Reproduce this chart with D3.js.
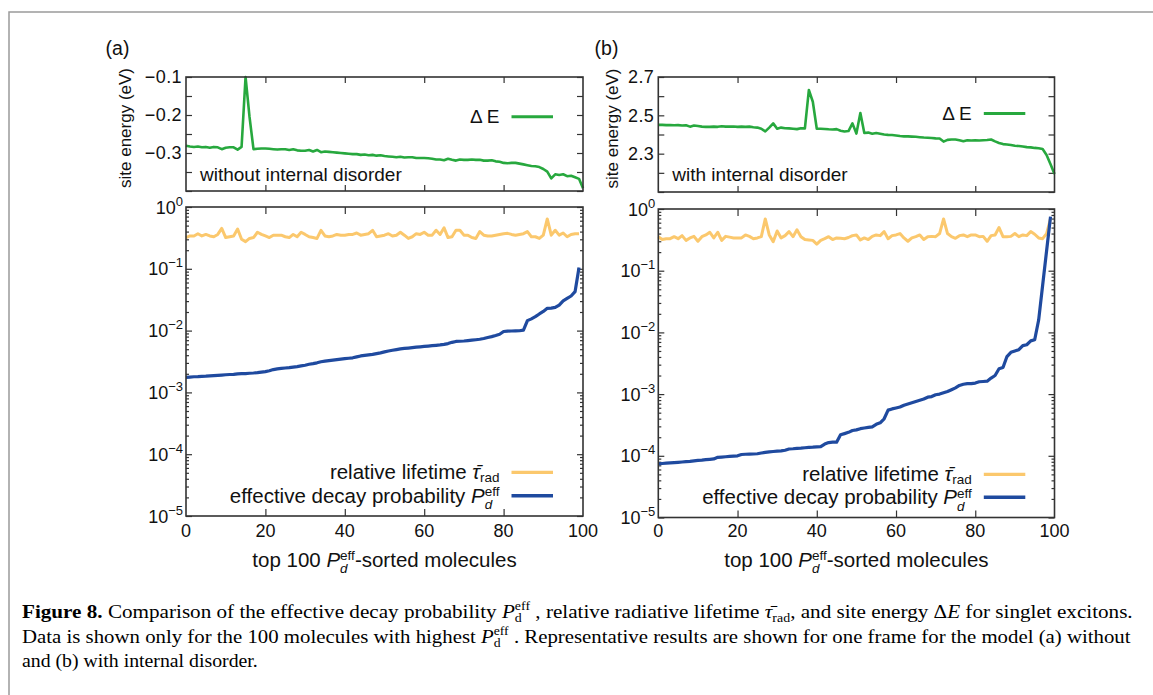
<!DOCTYPE html>
<html><head><meta charset="utf-8">
<script src="https://cdn.jsdelivr.net/npm/d3@7"></script>
<style>body{margin:0;background:#fff;}svg{display:block;}</style>
</head><body>
<svg id="fig" width="1153" height="695"></svg>
<script>
// ---------------- DATA ----------------
const xTicks = [0, 20, 40, 60, 80, 100];
const xTickLabels = ["0", "20", "40", "60", "80", "100"];

const energyTicksA = [-0.1, -0.2, -0.3];
const energyLabelsA = ["\u22120.1", "\u22120.2", "\u22120.3"];
const energyTicksB = [2.7, 2.5, 2.3];
const energyLabelsB = ["2.7", "2.5", "2.3"];

const logTicks = [1, 1e-1, 1e-2, 1e-3, 1e-4, 1e-5];
const logTickExps = ["0", "\u22121", "\u22122", "\u22123", "\u22124", "\u22125"];

// site energy (eV), panel (a) without internal disorder, molecules 0..100
const energyA = [
 -0.281,-0.283,-0.284,-0.283,-0.285,-0.284,-0.286,-0.284,-0.285,-0.290,
 -0.286,-0.285,-0.285,-0.291,-0.284,-0.100,-0.205,-0.290,-0.289,-0.288,
 -0.288,-0.289,-0.290,-0.291,-0.290,-0.290,-0.292,-0.290,-0.293,-0.294,
 -0.294,-0.292,-0.296,-0.292,-0.298,-0.296,-0.297,-0.298,-0.299,-0.300,
 -0.301,-0.302,-0.303,-0.303,-0.305,-0.304,-0.306,-0.305,-0.307,-0.306,
 -0.308,-0.309,-0.310,-0.311,-0.310,-0.312,-0.311,-0.311,-0.313,-0.313,
 -0.313,-0.314,-0.315,-0.317,-0.317,-0.319,-0.315,-0.318,-0.320,-0.317,
 -0.318,-0.318,-0.317,-0.318,-0.318,-0.320,-0.320,-0.319,-0.322,-0.323,
 -0.326,-0.327,-0.326,-0.326,-0.328,-0.330,-0.332,-0.334,-0.335,-0.337,
 -0.342,-0.349,-0.367,-0.356,-0.358,-0.356,-0.361,-0.360,-0.364,-0.368,
 -0.393];

// site energy (eV), panel (b) with internal disorder, molecules 0..100
const energyB = [
 2.450,2.450,2.449,2.449,2.448,2.449,2.447,2.448,2.441,2.447,
 2.444,2.441,2.440,2.440,2.441,2.440,2.443,2.441,2.441,2.442,
 2.440,2.441,2.440,2.441,2.438,2.436,2.430,2.416,2.436,2.458,
 2.430,2.436,2.433,2.432,2.430,2.428,2.433,2.432,2.632,2.571,
 2.430,2.430,2.429,2.427,2.426,2.428,2.420,2.416,2.418,2.458,
 2.405,2.512,2.408,2.410,2.404,2.408,2.404,2.400,2.398,2.397,
 2.395,2.392,2.390,2.390,2.389,2.388,2.386,2.384,2.383,2.382,
 2.380,2.379,2.363,2.372,2.374,2.374,2.370,2.365,2.370,2.369,
 2.370,2.369,2.370,2.371,2.374,2.364,2.356,2.350,2.348,2.345,
 2.341,2.340,2.337,2.334,2.333,2.330,2.328,2.324,2.293,2.245,
 2.194];

// relative lifetime, panel (a), molecules 0..99
const lifetimeA = [
 0.32,0.34,0.34,0.37,0.34,0.36,0.34,0.33,0.36,0.45,
 0.32,0.33,0.34,0.44,0.30,0.275,0.31,0.32,0.39,0.36,
 0.34,0.32,0.35,0.35,0.35,0.33,0.32,0.36,0.33,0.39,
 0.36,0.33,0.32,0.31,0.42,0.34,0.33,0.34,0.36,0.35,
 0.35,0.36,0.36,0.38,0.35,0.36,0.37,0.42,0.33,0.34,
 0.35,0.37,0.34,0.35,0.39,0.35,0.31,0.33,0.37,0.36,
 0.39,0.35,0.35,0.42,0.36,0.46,0.32,0.33,0.42,0.42,
 0.35,0.35,0.32,0.31,0.40,0.35,0.34,0.34,0.35,0.36,
 0.37,0.375,0.36,0.35,0.36,0.37,0.40,0.33,0.33,0.31,
 0.35,0.64,0.35,0.42,0.35,0.38,0.33,0.36,0.37,0.37];

// effective decay probability, panel (a)
const decayA = [
 1.75e-3,1.77e-3,1.79e-3,1.80e-3,1.82e-3,1.83e-3,1.85e-3,1.87e-3,1.89e-3,1.91e-3,
 1.93e-3,1.95e-3,1.96e-3,2.00e-3,2.01e-3,2.02e-3,2.04e-3,2.06e-3,2.09e-3,2.13e-3,
 2.17e-3,2.24e-3,2.34e-3,2.40e-3,2.44e-3,2.48e-3,2.52e-3,2.57e-3,2.62e-3,2.68e-3,
 2.75e-3,2.85e-3,2.92e-3,3.01e-3,3.13e-3,3.20e-3,3.27e-3,3.33e-3,3.39e-3,3.45e-3,
 3.51e-3,3.57e-3,3.63e-3,3.76e-3,3.89e-3,3.98e-3,4.05e-3,4.12e-3,4.25e-3,4.37e-3,
 4.52e-3,4.68e-3,4.81e-3,4.93e-3,5.06e-3,5.14e-3,5.22e-3,5.31e-3,5.40e-3,5.47e-3,
 5.55e-3,5.62e-3,5.70e-3,5.78e-3,5.86e-3,5.98e-3,6.17e-3,6.46e-3,6.67e-3,6.73e-3,
 6.79e-3,6.89e-3,7.00e-3,7.11e-3,7.24e-3,7.45e-3,7.73e-3,7.98e-3,8.32e-3,8.71e-3,
 9.66e-3,9.82e-3,9.86e-3,9.91e-3,9.95e-3,1.02e-2,1.45e-2,1.55e-2,1.68e-2,1.86e-2,
 2.04e-2,2.29e-2,2.31e-2,2.37e-2,2.59e-2,3.02e-2,3.31e-2,3.63e-2,4.27e-2,1.05e-1];

// relative lifetime, panel (b)
const lifetimeB = [
 0.356,0.32,0.33,0.33,0.356,0.33,0.37,0.31,0.34,0.36,
 0.30,0.356,0.38,0.42,0.34,0.42,0.31,0.36,0.35,0.34,
 0.34,0.34,0.38,0.36,0.33,0.34,0.356,0.69,0.38,0.296,
 0.44,0.34,0.37,0.43,0.356,0.46,0.356,0.32,0.315,0.31,
 0.27,0.31,0.33,0.356,0.32,0.34,0.335,0.33,0.345,0.37,
 0.38,0.315,0.34,0.32,0.36,0.38,0.37,0.43,0.33,0.37,
 0.38,0.40,0.34,0.30,0.34,0.356,0.38,0.32,0.356,0.36,
 0.356,0.40,0.69,0.40,0.356,0.335,0.37,0.38,0.356,0.38,
 0.38,0.356,0.36,0.30,0.37,0.38,0.50,0.356,0.356,0.36,
 0.40,0.356,0.38,0.37,0.43,0.39,0.34,0.33,0.40,0.70];

// effective decay probability, panel (b)
const decayB = [
 7.41e-5,7.50e-5,7.59e-5,7.67e-5,7.76e-5,7.85e-5,7.94e-5,8.04e-5,8.13e-5,8.28e-5,
 8.41e-5,8.51e-5,8.65e-5,8.77e-5,8.91e-5,9.44e-5,9.55e-5,9.66e-5,9.77e-5,9.89e-5,
 1.00e-4,1.05e-4,1.06e-4,1.064e-4,1.07e-4,1.08e-4,1.11e-4,1.135e-4,1.16e-4,1.175e-4,
 1.19e-4,1.20e-4,1.23e-4,1.29e-4,1.30e-4,1.32e-4,1.33e-4,1.35e-4,1.365e-4,1.38e-4,
 1.40e-4,1.41e-4,1.55e-4,1.64e-4,1.66e-4,1.66e-4,2.19e-4,2.29e-4,2.40e-4,2.57e-4,
 2.63e-4,2.75e-4,2.82e-4,2.88e-4,2.95e-4,3.24e-4,3.43e-4,3.98e-4,5.50e-4,5.75e-4,
 5.96e-4,6.17e-4,6.61e-4,6.92e-4,7.24e-4,7.59e-4,7.94e-4,8.32e-4,8.91e-4,9.12e-4,
 9.77e-4,1.00e-3,1.05e-3,1.10e-3,1.175e-3,1.26e-3,1.38e-3,1.445e-3,1.48e-3,1.48e-3,
 1.51e-3,1.585e-3,1.60e-3,1.62e-3,1.82e-3,2.00e-3,2.57e-3,2.69e-3,4.06e-3,4.76e-3,
 5.01e-3,5.25e-3,6.11e-3,6.31e-3,7.28e-3,7.59e-3,1.585e-2,5.75e-2,0.209,0.752];

// ---------------- STYLE / LAYOUT ----------------
const FONT = '"Liberation Sans", Arial, Helvetica, sans-serif';
const SERIF = '"Liberation Serif", "Times New Roman", serif';
const COL = {green: '#27a83e', orange: '#fbc86d', blue: '#1f4a9f', axis: '#333', text: '#111'};
const TFS = 18;  // tick label size
const LFS = 20.5; // legend / title text size
const SFS = 13.5; // sub/superscript size

const svg = d3.select('#fig');

// outer figure frame (extends past right / bottom edge)
svg.append('rect').attr('x', 9).attr('y', 12).attr('width', 1300).attr('height', 900)
  .attr('fill', 'none').attr('stroke', '#9b9b9b').attr('stroke-width', 1.5);

// measuring helper
const meas = svg.append('text').attr('x', -1000).attr('y', -1000).attr('font-family', FONT);
function tw(str, size, italic, family) {
  meas.attr('font-size', size).attr('font-style', italic ? 'italic' : 'normal')
      .attr('font-family', family || FONT).text(str);
  return meas.node().getComputedTextLength();
}

function rich(parent, x, y, anchor, size, segs, family) {
  const t = parent.append('text').attr('x', x).attr('y', y).attr('text-anchor', anchor)
    .attr('font-family', family || FONT).attr('font-size', size).attr('fill', COL.text);
  let cur = 0;
  segs.forEach(s => {
    const ts = t.append('tspan').text(s.t);
    const sh = s.sh || 0;
    if (sh !== cur) ts.attr('dy', sh - cur);
    cur = sh;
    if (s.fs) ts.attr('font-size', s.fs);
    if (s.i) ts.attr('font-style', 'italic');
    if (s.b) ts.attr('font-weight', 'bold');
    if (s.dx) ts.attr('dx', s.dx);
  });
  return t;
}

const panels = [
  {tag: '(a)', energy: energyA, life: lifetimeA, decay: decayA,
   eDomain: [-0.4, -0.1], eTicks: energyTicksA, eLabels: energyLabelsA,
   note: 'without internal disorder',
   x0: 186, x1: 583, top: [77, 191], bot: [207, 516], ylabX: 125, tagX: 117.5,
   dEy: 116.7, l1y: 472.3, l2y: 495.8},
  {tag: '(b)', energy: energyB, life: lifetimeB, decay: decayB,
   eDomain: [2.1, 2.7], eTicks: energyTicksB, eLabels: energyLabelsB,
   note: 'with internal disorder',
   x0: 658.3, x1: 1054.5, top: [77, 192], bot: [209, 517.5], ylabX: 612.5, tagX: 606.5,
   dEy: 113.5, l1y: 474.3, l2y: 497.3}
];

function styleAxis(g) {
  g.select('.domain').remove();
  g.attr('color', COL.axis);
  g.selectAll('line').attr('stroke-width', 1.2);
}

panels.forEach(p => {
  const g = svg.append('g');
  const x = d3.scaleLinear().domain([0, 100]).range([p.x0, p.x1]);
  const yE = d3.scaleLinear().domain(p.eDomain).range([p.top[1], p.top[0]]);
  const yL = d3.scaleLog().domain([1e-5, 1]).range([p.bot[1], p.bot[0]]);
  const TK = 6, TKm = 3;

  // ---- top plot ticks
  const eMinor = yE.ticks(6);
  g.append('g').attr('transform', `translate(0,${p.top[1]})`)
    .call(d3.axisBottom(x).tickValues(xTicks.slice(1, -1)).tickSize(-TK).tickFormat('')).call(styleAxis);
  g.append('g').attr('transform', `translate(0,${p.top[0]})`)
    .call(d3.axisTop(x).tickValues(xTicks.slice(1, -1)).tickSize(-TK).tickFormat('')).call(styleAxis);
  g.append('g').attr('transform', `translate(${p.x0},0)`)
    .call(d3.axisLeft(yE).tickValues(eMinor).tickSize(-TK).tickFormat('')).call(styleAxis);
  g.append('g').attr('transform', `translate(${p.x1},0)`)
    .call(d3.axisRight(yE).tickValues(eMinor).tickSize(-TK).tickFormat('')).call(styleAxis);

  // ---- bottom plot ticks
  const allLog = yL.ticks();
  const minorLog = allLog.filter(v => !logTicks.some(m => Math.abs(Math.log10(v) - Math.log10(m)) < 1e-6));
  g.append('g').attr('transform', `translate(0,${p.bot[1]})`)
    .call(d3.axisBottom(x).tickValues(xTicks.slice(1, -1)).tickSize(-TK - 1).tickFormat('')).call(styleAxis);
  g.append('g').attr('transform', `translate(0,${p.bot[0]})`)
    .call(d3.axisTop(x).tickValues(xTicks.slice(1, -1)).tickSize(-TK - 1).tickFormat('')).call(styleAxis);
  [[d3.axisLeft, p.x0], [d3.axisRight, p.x1]].forEach(([ax, xp]) => {
    g.append('g').attr('transform', `translate(${xp},0)`)
      .call(ax(yL).tickValues(logTicks).tickSize(-TK).tickFormat('')).call(styleAxis);
    g.append('g').attr('transform', `translate(${xp},0)`)
      .call(ax(yL).tickValues(minorLog).tickSize(-TKm).tickFormat('')).call(styleAxis);
  });

  // ---- data lines
  const lineE = d3.line().x((d, i) => x(i)).y(d => yE(d));
  const lineL = d3.line().x((d, i) => x(i)).y(d => yL(d));
  g.append('path').datum(p.energy).attr('d', lineE).attr('fill', 'none')
    .attr('stroke', COL.green).attr('stroke-width', 2.6).attr('stroke-linejoin', 'round');
  g.append('path').datum(p.life).attr('d', lineL).attr('fill', 'none')
    .attr('stroke', COL.orange).attr('stroke-width', 3).attr('stroke-linejoin', 'round');
  g.append('path').datum(p.decay).attr('d', lineL).attr('fill', 'none')
    .attr('stroke', COL.blue).attr('stroke-width', 3.2).attr('stroke-linejoin', 'round');

  // ---- frames
  [[p.top[0], p.top[1]], [p.bot[0], p.bot[1]]].forEach(([t, b]) => {
    g.append('rect').attr('x', p.x0).attr('y', t).attr('width', p.x1 - p.x0).attr('height', b - t)
      .attr('fill', 'none').attr('stroke', COL.axis).attr('stroke-width', 1.6);
  });

  // ---- tick labels
  p.eTicks.forEach((v, i) => {
    g.append('text').attr('x', p.x0 - 4).attr('y', yE(v)).attr('dy', '0.36em')
      .attr('text-anchor', 'end').attr('font-family', FONT).attr('font-size', TFS)
      .attr('fill', COL.text).attr('letter-spacing', 0.4).text(p.eLabels[i]);
  });
  logTicks.forEach((v, i) => {
    rich(g, p.x0 - 3, yL(v) + 6.5, 'end', TFS, [{t: '10'}, {t: logTickExps[i], fs: 13, sh: -8}]);
  });
  xTicks.forEach((v, i) => {
    g.append('text').attr('x', x(v)).attr('y', 536.5).attr('text-anchor', 'middle')
      .attr('font-family', FONT).attr('font-size', TFS).attr('fill', COL.text).text(xTickLabels[i]);
  });

  // ---- axis titles
  g.append('text').attr('transform', `translate(${p.ylabX},${(p.top[0] + p.top[1]) / 2 - 6}) rotate(-90)`)
    .attr('dy', '0.35em').attr('text-anchor', 'middle').attr('font-family', FONT).attr('font-size', 17)
    .attr('fill', COL.text).text('site energy (eV)');
  const wd = tw('d', SFS, true);
  rich(g, (p.x0 + p.x1) / 2, 566.5, 'middle', LFS, [
    {t: 'top 100 '}, {t: 'P', i: 1}, {t: 'd', i: 1, fs: SFS, sh: 6},
    {t: 'eff', fs: SFS, sh: -7, dx: -wd}, {t: '-sorted molecules', sh: 0}]);

  // ---- panel tag & annotation
  g.append('text').attr('x', p.tagX).attr('y', 54.5).attr('text-anchor', 'middle')
    .attr('font-family', FONT).attr('font-size', 19.5).attr('fill', COL.text).text(p.tag);
  g.append('text').attr('x', p.x0 + 14).attr('y', 181).attr('font-family', FONT)
    .attr('font-size', 19).attr('fill', COL.text).text(p.note);

  // ---- legends
  const lx0 = p.x0 + 325.5, lx1 = p.x0 + 367, tx = p.x0 + 313.5;
  const leg = (y, col, w) => g.append('line').attr('x1', lx0).attr('x2', lx1).attr('y1', y).attr('y2', y)
    .attr('stroke', col).attr('stroke-width', w);
  leg(p.dEy, COL.green, 3);
  rich(g, tx, p.dEy + 6.5, 'end', 19, [{t: '\u0394 E'}]);
  leg(p.l1y, COL.orange, 3.2);
  rich(g, tx, p.l1y + 7, 'end', LFS, [{t: 'relative lifetime '}, {t: '\u03C4\u0304', i: 1},
    {t: 'rad', fs: SFS, sh: 2.7}]);
  leg(p.l2y, COL.blue, 3.4);
  rich(g, tx, p.l2y + 7, 'end', LFS, [{t: 'effective decay probability '}, {t: 'P', i: 1},
    {t: 'd', i: 1, fs: SFS, sh: 6.5}, {t: 'eff', fs: SFS, sh: -6.8, dx: -tw('d', SFS, true)}]);
});

// ---------------- CAPTION ----------------
const cap = svg.append('g');
const CFS = 19, CSF = 12.5;
const wdc = tw('d', CSF, false, SERIF);
const capLines = [
  {y: 618, w: 1111, segs: [
    {t: 'Figure 8.', b: 1}, {t: ' Comparison of the effective decay probability '}, {t: 'P', i: 1},
    {t: 'd', fs: CSF, sh: 4}, {t: 'eff', fs: CSF, sh: -8, dx: -wdc}, {t: ' , relative radiative lifetime ', sh: 0},
    {t: '\u03C4\u0304', i: 1}, {t: 'rad', fs: CSF, sh: 4}, {t: ', and site energy \u0394', sh: 0},
    {t: 'E', i: 1}, {t: ' for singlet excitons.'}]},
  {y: 642.5, w: 1110, segs: [
    {t: 'Data is shown only for the 100 molecules with highest '}, {t: 'P', i: 1},
    {t: 'd', fs: CSF, sh: 4}, {t: 'eff', fs: CSF, sh: -8, dx: -wdc},
    {t: ' . Representative results are shown for one frame for the model (a) without', sh: 0}]},
  {y: 667, w: 236, segs: [{t: 'and (b) with internal disorder.'}]}
];
capLines.forEach(l => {
  const lg = cap.append('g');
  const t = rich(lg, 0, 0, 'start', CFS, l.segs, SERIF).attr('fill', '#000');
  const bw = t.node().getBBox().width;
  lg.attr('transform', `translate(22,${l.y}) scale(${l.w / bw},1)`);
});
meas.remove();
</script>
</body></html>
